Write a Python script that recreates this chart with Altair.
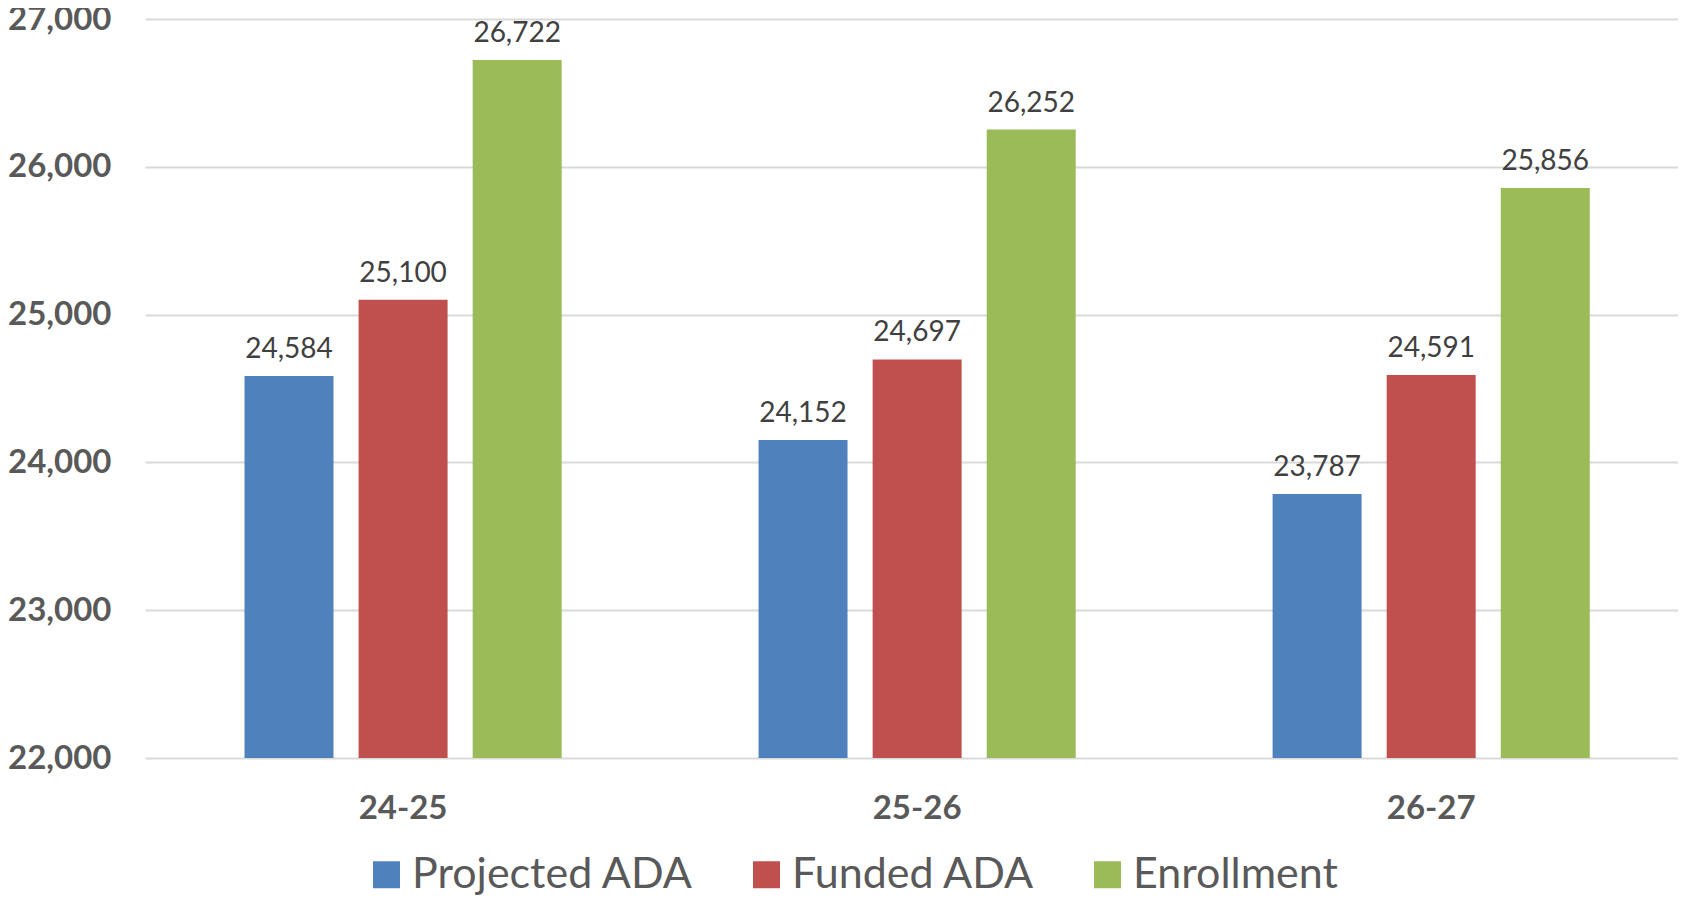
import altair as alt
import pandas as pd

years = ["24-25", "25-26", "26-27"]
series = ["Projected ADA", "Funded ADA", "Enrollment"]
projected = [24584, 24152, 23787]
funded = [25100, 24697, 24591]
enrollment = [26722, 26252, 25856]
colors = ["#4F81BD", "#C0504D", "#9BBB59"]
y_ticks = [22000, 23000, 24000, 25000, 26000, 27000]

rows = []
for name, vals in zip(series, [projected, funded, enrollment]):
    for yr, v in zip(years, vals):
        rows.append({"year": yr, "series": name, "value": v})
df = pd.DataFrame(rows)

base = alt.Chart(df).encode(
    x=alt.X(
        "year:N",
        sort=years,
        scale=alt.Scale(paddingInner=0.383, paddingOuter=0.1826, align=0.53),
        axis=alt.Axis(
            title=None, labelAngle=0, domain=False, ticks=False, tickSize=0,
            labelPadding=34, labelFont="Lato", labelFontWeight="bold",
            labelFontSize=33, labelColor="#595959", grid=False,
        ),
    ),
    xOffset=alt.XOffset("series:N", sort=series,
                        scale=alt.Scale(paddingInner=0.22, paddingOuter=0)),
    y=alt.Y(
        "value:Q",
        scale=alt.Scale(domain=[22000, 27000], nice=False, zero=False),
        axis=alt.Axis(
            title=None, values=y_ticks, format=",d", domain=False, ticks=False,
            tickSize=0, labelPadding=34, labelFont="Lato", labelFontWeight="bold",
            labelFontSize=33, labelColor="#595959", grid=True,
            gridColor="#D9D9D9", gridWidth=2,
        ),
    ),
)

bars = base.mark_bar().encode(
    y2=alt.datum(22000),
    color=alt.Color(
        "series:N",
        sort=series,
        scale=alt.Scale(domain=series, range=colors),
        legend=alt.Legend(
            title=None, orient="none", direction="horizontal",
            legendX=220, legendY=834, padding=0,
            symbolType="square", symbolSize=729, symbolStrokeWidth=0,
            labelFont="Lato", labelFontSize=43, labelColor="#595959",
            labelOffset=4, columnPadding=51, labelLimit=500,
        ),
    ),
)

labels = base.mark_text(
    baseline="alphabetic", dy=-18, font="Lato", fontSize=28, color="#404040"
).encode(text=alt.Text("value:Q", format=","))

chart = (
    alt.layer(bars, labels)
    .properties(
        width=1533,
        height=739,
        autosize=alt.AutoSizeParams(type="none"),
        padding={"left": 137, "top": 11, "right": 0, "bottom": 139},
    )
    .configure_view(stroke=None)
)

chart.save("out.html", embed_options={"renderer": "svg", "actions": False})
